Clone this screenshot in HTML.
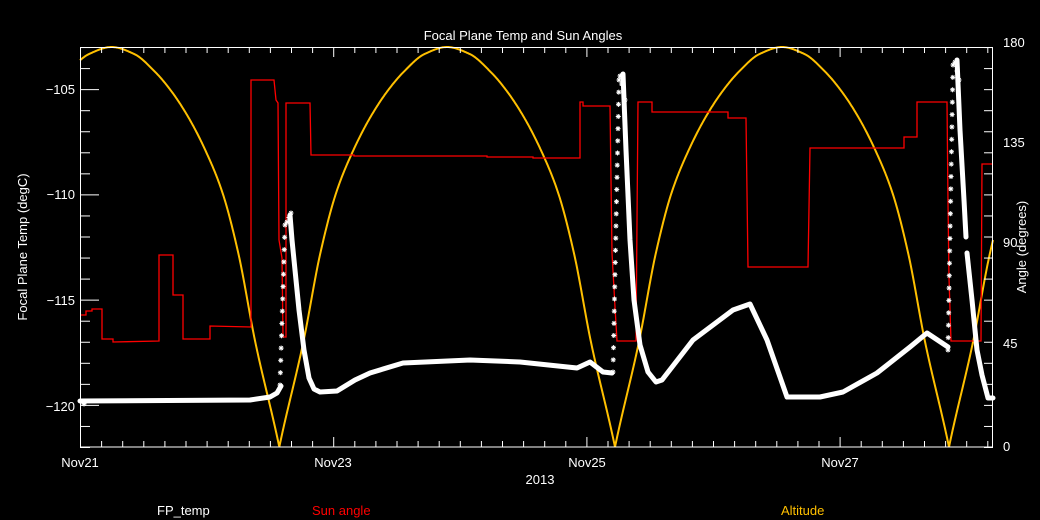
<!DOCTYPE html>
<html><head><meta charset="utf-8"><style>
html,body{margin:0;padding:0;background:#000;}
svg{display:block;}
text{font-family:"Liberation Sans",sans-serif;font-size:13px;fill:#fff;}
</style></head><body>
<svg id="s" width="1040" height="520" xmlns="http://www.w3.org/2000/svg">
<rect width="1040" height="520" fill="#000"/>
<g id="data"></g>
<rect x="80.5" y="47.5" width="912" height="399.5" fill="none" stroke="#fff" stroke-width="1"/>
<g id="ticks" stroke="#fff" stroke-width="1"></g>
<text x="523" y="40" text-anchor="middle" font-size="14">Focal Plane Temp and Sun Angles</text>
<text x="75" y="94" text-anchor="end">−105</text>
<text x="75" y="199" text-anchor="end">−110</text>
<text x="75" y="305" text-anchor="end">−115</text>
<text x="75" y="411" text-anchor="end">−120</text>
<text x="1003" y="47">180</text>
<text x="1003" y="147">135</text>
<text x="1003" y="247">90</text>
<text x="1003" y="348">45</text>
<text x="1003" y="451">0</text>
<text x="80" y="467" text-anchor="middle">Nov21</text>
<text x="333" y="467" text-anchor="middle">Nov23</text>
<text x="587" y="467" text-anchor="middle">Nov25</text>
<text x="840" y="467" text-anchor="middle">Nov27</text>
<text x="540" y="484" text-anchor="middle">2013</text>
<text transform="translate(27,247) rotate(-90)" text-anchor="middle">Focal Plane Temp (degC)</text>
<text transform="translate(1026,247) rotate(-90)" text-anchor="middle">Angle (degrees)</text>
<text x="157" y="515">FP_temp</text>
<text x="312" y="515" style="fill:#ff0000">Sun angle</text>
<text x="781" y="515" style="fill:#ffc000">Altitude</text>
</svg>
<script>
var NS="http://www.w3.org/2000/svg";
function el(p,t,a){var e=document.createElementNS(NS,t);for(var k in a)e.setAttribute(k,a[k]);p.appendChild(e);return e;}
var tk=document.getElementById("ticks"),dg=document.getElementById("data");
for(var i=0;i<=43;i++){var x=80.5+i*21.1;if(x>993)break;var L=(i%12==0)?10:6;
 el(tk,"line",{x1:x,y1:447,x2:x,y2:447-L});el(tk,"line",{x1:x,y1:47,x2:x,y2:47+L});}
for(var j=0;j<=19;j++){var y=447-j*21.05+0.5;var v=-122+j;var L=(v%5==0)?19:10;
 el(tk,"line",{x1:80,y1:y,x2:80+L,y2:y});el(tk,"line",{x1:993,y1:y,x2:984,y2:y});}
// altitude: monotone cubic interpolation
var X=[0,24,41,57,74,91,108,124,145,167.5],Y=[0,105,194,255,297,330,356,375,393,400];
var n=X.length,dl=[],m=[];
for(var i=0;i<n-1;i++)dl.push((Y[i+1]-Y[i])/(X[i+1]-X[i]));
m[0]=dl[0]*1.1;m[n-1]=0;
for(var i=1;i<n-1;i++){m[i]=(dl[i-1]*dl[i]<=0)?0:2/(1/dl[i-1]+1/dl[i]);}
function d(x){if(x<=0)return 0;if(x>=167.5)return 400;var i=0;while(x>X[i+1])i++;
 var h=X[i+1]-X[i],t=(x-X[i])/h,t2=t*t,t3=t2*t;
 return (2*t3-3*t2+1)*Y[i]+(t3-2*t2+t)*h*m[i]+(-2*t3+3*t2)*Y[i+1]+(t3-t2)*h*m[i+1];}
var zs=[-56,279.3,615,949,1284],pts=[];
for(var x=80;x<=993;x+=0.5){for(var k=0;k<zs.length-1;k++){if(x>=zs[k]&&x<zs[k+1]){var dx=x-zs[k];var w=zs[k+1]-zs[k];if(dx>w/2)dx=w-dx;dx=dx*335/w;pts.push(x+","+(447-d(dx)).toFixed(1));}}}
el(dg,"polyline",{points:pts.join(" "),fill:"none",stroke:"#ffc000","stroke-width":2});
var R=[[80,315],[86,315],[86,311],[92,311],[92,309],[102,309],[102,339],[113,339],[113,342],[159,341],[159,255],[173,255],[173,295],[183,295],[183,339],[210,339],[210,326],[251,327],[251,80],[274,80],[276,100],[278,103],[279,240],[282,258],[283,337],[286,337],[286,103],[310,103],[311,155],[354,155],[354,156],[487,156],[487,157],[533,157],[533,158],[580,158],[580,102],[583,102],[583,106],[610,106],[612,253],[615,307],[617,341],[636,341],[638,102],[652,102],[652,112],[728,112],[728,118],[746,118],[748,267],[808,267],[810,148],[904,148],[904,137],[917,137],[917,102],[947,102],[948,203],[949,278],[951,341],[981,341],[982,164],[993,164]];
el(dg,"polyline",{points:R.map(function(p){return p.join(",")}).join(" "),fill:"none",stroke:"#ff0000","stroke-width":1.3});
var W=[[80,401],[250,400],[270,397],[277,393],[281,386]];
var W2=[[290,215],[292,240],[295,270],[299,310],[304,350],[309,378],[314,389],[320,392],[337,391],[355,380],[370,373],[403,363],[470,360],[520,362],[577,368],[590,362],[603,372],[612,373]];
var W3=[[623,74],[626,150],[630,240],[634,300],[640,345],[648,372],[656,382],[662,380],[693,340],[733,310],[750,304],[767,340],[787,397],[820,397],[843,392],[877,373],[910,347],[927,333],[948,347]];
var W4=[[957,60],[960,130],[964,200],[966,237]];
var W5=[[967,253],[972,300],[977,350],[982,375],[988,398],[993,398]];
[W,W2,W3,W4,W5].forEach(function(a){el(dg,"polyline",{points:a.map(function(p){return p.join(",")}).join(" "),fill:"none",stroke:"#fff","stroke-width":5,"stroke-linejoin":"round","stroke-linecap":"round"});});
function star(x,y){var g=el(dg,"g",{stroke:"#fff","stroke-width":1});el(g,"line",{x1:x-2.5,y1:y,x2:x+2.5,y2:y});el(g,"line",{x1:x,y1:y-2.5,x2:x,y2:y+2.5});el(g,"line",{x1:x-1.8,y1:y-1.8,x2:x+1.8,y2:y+1.8});el(g,"line",{x1:x-1.8,y1:y+1.8,x2:x+1.8,y2:y-1.8});}
function col(x0,y0,x1,y1,n){for(var i=0;i<=n;i++){var t=i/n;star(x0+(x1-x0)*t,y0+(y1-y0)*t);}}
col(280,385,285,225,13);col(287,222,291,213,2);
col(613,372,619,80,24);col(620,76,625,100,3);
col(948,350,953,65,23);col(955,62,959,80,2);
star(84,404);
</script>
</body></html>
